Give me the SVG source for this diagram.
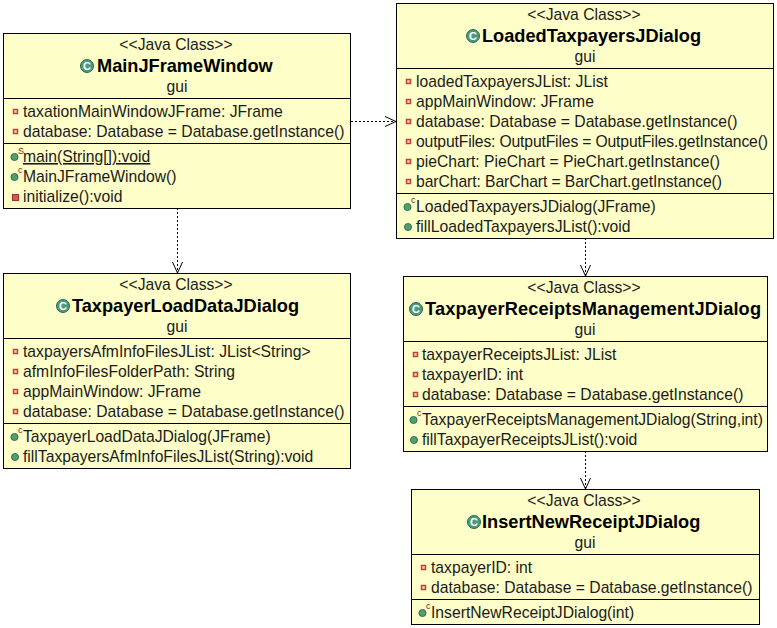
<svg xmlns="http://www.w3.org/2000/svg" width="777" height="628" viewBox="0 0 777 628">
<style>
text{font-family:"Liberation Sans",Arial,sans-serif;font-size:15.7px;fill:#1a1a1a}
.box{fill:#fefec8;stroke:#000;stroke-width:1}
.div{stroke:#000;stroke-width:1}
.c{text-anchor:middle}
.n{font-weight:bold;font-size:18.2px;fill:#000}
.ci{fill:#4a9a7c;stroke:#2c6a55;stroke-width:1}
.cg{font-weight:bold;font-size:11px;fill:#fff;text-anchor:middle}
.f{fill:#f2d9a0;stroke:#c2403c;stroke-width:1.5}
.p{fill:#d9555a;stroke:#a82c30;stroke-width:1}
.m{fill:#4f9f6f;stroke:#2f7050;stroke-width:1}
.a{font-size:9px;fill:#7a1f1f}
.dep{fill:none;stroke:#000;stroke-width:1;stroke-dasharray:2 2}
.head{fill:none;stroke:#000;stroke-width:1}
</style>
<defs>
<g id="ic"><circle r="6.5" class="ci"/><text y="4" class="cg">C</text></g>
<rect id="fi" x="-2" y="-2" width="4" height="4" class="f"/>
<circle id="me" r="3.5" class="m"/>
</defs>
<g id="connectors">
<path class="dep" d="M351 121.500H396"/><path class="head" d="M385 116.500L396 121.500L385 126.500"/>
<path class="dep" d="M177.500 208V273"/><path class="head" d="M172.500 262L177.500 273L182.500 262"/>
<path class="dep" d="M585.500 238V276"/><path class="head" d="M580.500 265L585.500 276L590.500 265"/>
<path class="dep" d="M585.500 451V489"/><path class="head" d="M580.500 478L585.500 489L590.500 478"/>
</g>
<g id="MainJFrameWindow">
<rect class="box" x="3.5" y="33.5" width="347" height="175"/>
<path class="div" d="M3.5 98.5H350.5M3.5 143.500H350.500"/>
<text class="c" x="176" y="50">&lt;&lt;Java Class&gt;&gt;</text>
<use href="#ic" x="87" y="66"/>
<text class="n" x="97" y="72">MainJFrameWindow</text>
<text class="c" x="177" y="92">gui</text>
<use href="#fi" x="15.5" y="111.500"/><text x="23" y="117">taxationMainWindowJFrame: JFrame</text>
<use href="#fi" x="15.5" y="131.500"/><text x="23" y="137">database: Database = Database.getInstance()</text>
<use href="#me" x="14.500" y="157"/><text class="a" x="18" y="154">S</text><text x="23" y="162" text-decoration="underline">main(String[]):void</text>
<use href="#me" x="14.500" y="177"/><text class="a" x="18" y="173">c</text><text x="23" y="182">MainJFrameWindow()</text>
<rect x="12.5" y="194.5" width="6" height="6" class="p"/><text x="23" y="202">initialize():void</text>
</g>
<g id="TaxpayerLoadDataJDialog">
<rect class="box" x="3.5" y="273.5" width="347" height="195"/>
<path class="div" d="M3.5 338.5H350.5M3.5 423.5H350.5"/>
<text class="c" x="176" y="290">&lt;&lt;Java Class&gt;&gt;</text>
<use href="#ic" x="63" y="306"/>
<text class="n" x="72" y="312">TaxpayerLoadDataJDialog</text>
<text class="c" x="177" y="332">gui</text>
<use href="#fi" x="15.5" y="351.500"/><text x="23" y="357">taxpayersAfmInfoFilesJList: JList&lt;String&gt;</text>
<use href="#fi" x="15.5" y="371.500"/><text x="23" y="377">afmInfoFilesFolderPath: String</text>
<use href="#fi" x="15.5" y="391.500"/><text x="23" y="397">appMainWindow: JFrame</text>
<use href="#fi" x="15.5" y="411.500"/><text x="23" y="417">database: Database = Database.getInstance()</text>
<use href="#me" x="14.500" y="437"/><text class="a" x="18" y="433">c</text><text x="23" y="442">TaxpayerLoadDataJDialog(JFrame)</text>
<use href="#me" x="15" y="457"/><text x="23" y="462">fillTaxpayersAfmInfoFilesJList(String):void</text>
</g>
<g id="LoadedTaxpayersJDialog">
<rect class="box" x="396.5" y="3.5" width="377" height="235"/>
<path class="div" d="M396.5 68.5H773.5M396.5 193.5H773.5"/>
<text class="c" x="584" y="20">&lt;&lt;Java Class&gt;&gt;</text>
<use href="#ic" x="473" y="36"/>
<text class="n" x="482" y="42">LoadedTaxpayersJDialog</text>
<text class="c" x="585" y="62">gui</text>
<use href="#fi" x="408.5" y="81.500"/><text x="416" y="87">loadedTaxpayersJList: JList</text>
<use href="#fi" x="408.5" y="101.500"/><text x="416" y="107">appMainWindow: JFrame</text>
<use href="#fi" x="408.5" y="121.500"/><text x="416" y="127">database: Database = Database.getInstance()</text>
<use href="#fi" x="408.5" y="141.500"/><text x="416" y="147" textLength="352" lengthAdjust="spacing">outputFiles: OutputFiles = OutputFiles.getInstance()</text>
<use href="#fi" x="408.5" y="161.500"/><text x="416" y="167">pieChart: PieChart = PieChart.getInstance()</text>
<use href="#fi" x="408.5" y="181.500"/><text x="416" y="187" textLength="306" lengthAdjust="spacing">barChart: BarChart = BarChart.getInstance()</text>
<use href="#me" x="407.500" y="207"/><text class="a" x="411" y="203">c</text><text x="416" y="212">LoadedTaxpayersJDialog(JFrame)</text>
<use href="#me" x="408" y="227"/><text x="416" y="232">fillLoadedTaxpayersJList():void</text>
</g>
<g id="TaxpayerReceiptsManagementJDialog">
<rect class="box" x="403.5" y="276.5" width="364" height="175"/>
<path class="div" d="M403.5 341.5H767.5M403.5 406.5H767.5"/>
<text class="c" x="584" y="293">&lt;&lt;Java Class&gt;&gt;</text>
<use href="#ic" x="416" y="309"/>
<text class="n" x="425" y="315" textLength="336" lengthAdjust="spacing">TaxpayerReceiptsManagementJDialog</text>
<text class="c" x="585" y="335">gui</text>
<use href="#fi" x="415.5" y="354.500"/><text x="422" y="360">taxpayerReceiptsJList: JList</text>
<use href="#fi" x="415.5" y="374.500"/><text x="422" y="380">taxpayerID: int</text>
<use href="#fi" x="415.5" y="394.500"/><text x="422" y="400">database: Database = Database.getInstance()</text>
<use href="#me" x="413.500" y="420"/><text class="a" x="417" y="416">c</text><text x="422" y="425">TaxpayerReceiptsManagementJDialog(String,int)</text>
<use href="#me" x="414" y="440"/><text x="422" y="445">fillTaxpayerReceiptsJList():void</text>
</g>
<g id="InsertNewReceiptJDialog">
<rect class="box" x="411.5" y="489.5" width="348" height="135"/>
<path class="div" d="M411.5 554.5H759.5M411.5 599.5H759.5"/>
<text class="c" x="584" y="506">&lt;&lt;Java Class&gt;&gt;</text>
<use href="#ic" x="474" y="522"/>
<text class="n" x="482" y="528">InsertNewReceiptJDialog</text>
<text class="c" x="585" y="548">gui</text>
<use href="#fi" x="423.5" y="567.500"/><text x="431" y="573">taxpayerID: int</text>
<use href="#fi" x="423.5" y="587.500"/><text x="431" y="593">database: Database = Database.getInstance()</text>
<use href="#me" x="422.500" y="613"/><text class="a" x="426" y="609">c</text><text x="431" y="618">InsertNewReceiptJDialog(int)</text>
</g>
</svg>
